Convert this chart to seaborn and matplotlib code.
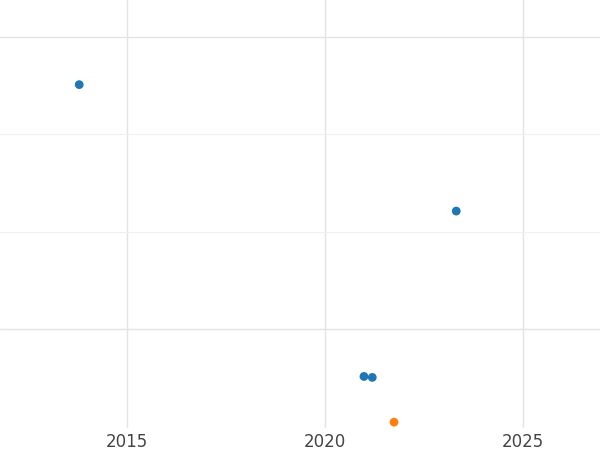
import matplotlib
matplotlib.use('Agg')
import matplotlib.pyplot as plt
import seaborn as sns
import pandas as pd

years = [2013.79, 2023.31, 2020.98, 2021.19, 2021.74]
values = [2.51, 1.21, -0.49, -0.50, -0.96]
groups = ['a', 'a', 'a', 'a', 'b']

df = pd.DataFrame({'year': years, 'value': values, 'group': groups})

sns.set_style('white')
fig = plt.figure(figsize=(6, 4.5), dpi=100)
ax = fig.add_axes([0, 22 / 450, 1, 428 / 450])

sns.scatterplot(data=df, x='year', y='value', hue='group',
                palette=['#1f77b4', '#ff7f0e'], s=40, edgecolor='none',
                legend=False, ax=ax)

ax.set_xlim(2011.79, 2026.94)
ax.set_ylim(-1.02, 3.38)
ax.set_xticks([2015, 2020, 2025])
ax.set_yticks([0, 3])
ax.set_yticks([1, 2], minor=True)
ax.grid(True, which='major', color='#e3e3e3', linewidth=1)
ax.grid(True, which='minor', axis='y', color='#efefef', linewidth=0.8)
ax.set_axisbelow(True)
ax.set_yticklabels([])
ax.tick_params(axis='both', which='both', length=0, labelsize=12, labelcolor='#444444')
ax.set_xlabel('')
ax.set_ylabel('')
for s in ax.spines.values():
    s.set_visible(False)

fig.savefig('out.png')
